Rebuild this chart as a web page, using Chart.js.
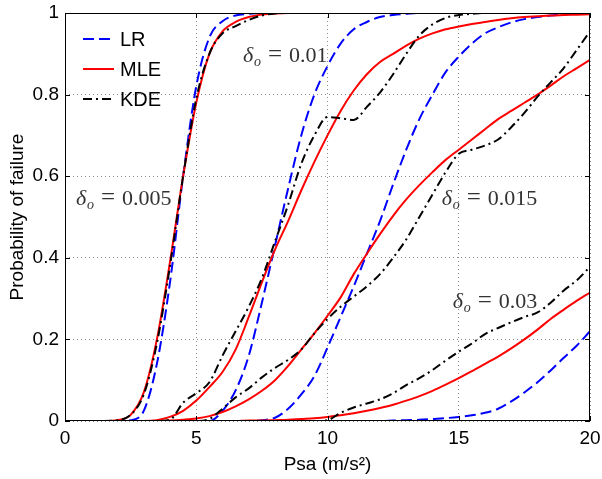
<!DOCTYPE html>
<html>
<head>
<meta charset="utf-8">
<script src="https://cdn.jsdelivr.net/npm/chart.js@4/dist/chart.umd.min.js"></script>
<style>
  body { margin: 0; background: #fff; }
  #c { display: block; }
</style>
</head>
<body>
<canvas id="c" width="602" height="479"></canvas>
<script>
// Psa grid (m/s^2)
const xs = [0, 0.5, 1, 1.5, 2, 2.5, 3, 3.5, 4, 4.5, 5, 5.5, 6, 6.5, 7, 7.5, 8, 8.5, 9, 9.5,
            10, 10.5, 11, 11.5, 12, 12.5, 13, 13.5, 14, 14.5, 15, 15.5, 16, 16.5, 17, 17.5, 18, 18.5, 19, 19.5, 20];

// delta_o = 0.005
const lr005 = [0, 0, 0, 0, 0, 0.002, 0.025, 0.14, 0.34, 0.6, 0.82, 0.94, 0.98, 0.994, 0.998, 1, 1, 1, 1, 1,
               1, 1, 1, 1, 1, 1, 1, 1, 1, 1, 1, 1, 1, 1, 1, 1, 1, 1, 1, 1, 1];
const mle005 = [0, 0, 0, 0, 0.002, 0.015, 0.07, 0.2, 0.39, 0.6, 0.78, 0.9, 0.955, 0.978, 0.99, 0.996, 0.999, 1, 1, 1,
                1, 1, 1, 1, 1, 1, 1, 1, 1, 1, 1, 1, 1, 1, 1, 1, 1, 1, 1, 1, 1];
const kde005 = [0, 0, 0, 0, 0.002, 0.015, 0.065, 0.19, 0.38, 0.6, 0.79, 0.9, 0.95, 0.968, 0.983, 0.994, 0.999, 1, 1, 1,
                1, 1, 1, 1, 1, 1, 1, 1, 1, 1, 1, 1, 1, 1, 1, 1, 1, 1, 1, 1, 1];

// delta_o = 0.01
const lr01 = [0, 0, 0, 0, 0, 0, 0, 0, 0, 0, 0, 0, 0.025, 0.075, 0.16, 0.29, 0.43, 0.57, 0.7, 0.8,
              0.87, 0.925, 0.96, 0.978, 0.99, 0.995, 0.998, 1, 1, 1, 1, 1, 1, 1, 1, 1, 1, 1, 1, 1, 1];
const mle01 = [0, 0, 0, 0, 0, 0, 0, 0.002, 0.01, 0.025, 0.05, 0.083, 0.12, 0.175, 0.255, 0.34, 0.42, 0.49, 0.565, 0.635,
               0.7, 0.76, 0.81, 0.85, 0.88, 0.9, 0.92, 0.937, 0.95, 0.96, 0.967, 0.973, 0.978, 0.983, 0.987, 0.99, 0.992, 0.994, 0.995, 0.996, 0.997];
const kde01 = [0, 0, 0, 0, 0, 0, 0, 0, 0.003, 0.045, 0.068, 0.095, 0.16, 0.22, 0.28, 0.35, 0.44, 0.53, 0.63, 0.7,
               0.745, 0.742, 0.738, 0.77, 0.805, 0.85, 0.9, 0.945, 0.972, 0.988, 0.995, 0.998, 1, 1, 1, 1, 1, 1, 1, 1, 1];

// delta_o = 0.015
const lr015 = [0, 0, 0, 0, 0, 0, 0, 0, 0, 0, 0, 0, 0, 0, 0, 0.002, 0.008, 0.03, 0.065, 0.11,
               0.18, 0.255, 0.33, 0.41, 0.49, 0.58, 0.665, 0.74, 0.8, 0.855, 0.893, 0.925, 0.95, 0.965, 0.977, 0.985, 0.99, 0.994, 0.996, 0.998, 0.999];
const mle015 = [0, 0, 0, 0, 0, 0, 0, 0, 0.001, 0.003, 0.006, 0.012, 0.022, 0.036, 0.053, 0.074, 0.1, 0.135, 0.175, 0.215,
                0.258, 0.303, 0.36, 0.41, 0.458, 0.503, 0.543, 0.578, 0.61, 0.64, 0.665, 0.69, 0.715, 0.74, 0.76, 0.78, 0.8, 0.822, 0.845, 0.865, 0.885];
const kde015 = [0, 0, 0, 0, 0, 0, 0, 0, 0, 0, 0, 0.005, 0.03, 0.058, 0.08, 0.107, 0.13, 0.15, 0.175, 0.215,
                0.25, 0.28, 0.305, 0.33, 0.36, 0.4, 0.445, 0.5, 0.555, 0.61, 0.655, 0.665, 0.675, 0.69, 0.72, 0.755, 0.795, 0.83, 0.865, 0.91, 0.955];

// delta_o = 0.03
const lr03 = [0, 0, 0, 0, 0, 0, 0, 0, 0, 0, 0, 0, 0, 0, 0, 0, 0, 0, 0, 0,
              0, 0, 0, 0, 0, 0.001, 0.002, 0.003, 0.005, 0.007, 0.01, 0.014, 0.02, 0.03, 0.048, 0.07, 0.095, 0.124, 0.155, 0.185, 0.22];
const mle03 = [0, 0, 0, 0, 0, 0, 0, 0, 0, 0, 0, 0, 0, 0, 0.001, 0.001, 0.002, 0.003, 0.005, 0.007,
               0.01, 0.014, 0.019, 0.025, 0.032, 0.04, 0.05, 0.061, 0.074, 0.089, 0.105, 0.122, 0.14, 0.158, 0.178, 0.2, 0.224, 0.25, 0.273, 0.295, 0.315];
const kde03 = [0, 0, 0, 0, 0, 0, 0, 0, 0, 0, 0, 0, 0, 0, 0, 0, 0, 0, 0, 0,
               0.002, 0.02, 0.033, 0.043, 0.053, 0.068, 0.088, 0.105, 0.125, 0.148, 0.17, 0.19, 0.213, 0.228, 0.242, 0.255, 0.266, 0.29, 0.32, 0.345, 0.378];

const methods = ['LR', 'MLE', 'KDE'];
const deltaLabels = ['0.005', '0.01', '0.015', '0.03'];
const yTickLabels = ['0', '0.2', '0.4', '0.6', '0.8', '1'];

const styles = {
    LR:  { color: '#0000ff', dash: [11, 5], order: 2 },
    MLE: { color: '#ff0000', dash: [], order: 1 },
    KDE: { color: '#000000', dash: [9, 4, 2, 4], order: 0 }
};

function pts(ys) {
    return xs.map(function(x, i) { return { x: x, y: ys[i] }; });
}

function makeSet(method, ys) {
    const s = styles[method];
    return {
        label: method,
        data: pts(ys),
        borderColor: s.color,
        borderDash: s.dash,
        borderWidth: 2,
        pointRadius: 0,
        fill: false,
        cubicInterpolationMode: 'monotone',
        order: s.order
    };
}

const FONT = '"Liberation Sans", Arial, sans-serif';
const SERIF = '"Liberation Serif", "DejaVu Serif", serif';

// box and inward ticks, like a matlab axes
const boxPlugin = {
    id: 'box',
    afterDatasetsDraw(chart) {
        const ctx = chart.ctx;
        const a = chart.chartArea;
        const xScale = chart.scales.x;
        const yScale = chart.scales.y;
        ctx.save();
        ctx.strokeStyle = '#000';
        ctx.lineWidth = 1;
        ctx.setLineDash([]);
        ctx.strokeRect(a.left + 0.5, a.top + 0.5, a.right - a.left - 1, a.bottom - a.top - 1);
        ctx.beginPath();
        xScale.ticks.forEach(function(t) {
            const px = Math.round(xScale.getPixelForValue(t.value)) + 0.5;
            ctx.moveTo(px, a.bottom); ctx.lineTo(px, a.bottom - 5);
            ctx.moveTo(px, a.top); ctx.lineTo(px, a.top + 5);
        });
        yScale.ticks.forEach(function(t) {
            const py = Math.round(yScale.getPixelForValue(t.value)) + 0.5;
            ctx.moveTo(a.left, py); ctx.lineTo(a.left + 5, py);
            ctx.moveTo(a.right, py); ctx.lineTo(a.right - 5, py);
        });
        ctx.stroke();
        ctx.restore();
    }
};

// delta_o labels placed in data space
const labelPlugin = {
    id: 'deltaLabels',
    afterDatasetsDraw(chart) {
        const ctx = chart.ctx;
        const xScale = chart.scales.x;
        const yScale = chart.scales.y;
        const spots = [[0.42, 0.529], [6.78, 0.881], [14.35, 0.529], [14.77, 0.276]];
        ctx.save();
        ctx.fillStyle = '#333';
        ctx.textBaseline = 'alphabetic';
        deltaLabels.forEach(function(txt, i) {
            const x0 = xScale.getPixelForValue(spots[i][0]);
            const y0 = yScale.getPixelForValue(spots[i][1]);
            ctx.font = 'italic 22px ' + SERIF;
            ctx.fillText('\u03b4', x0, y0);
            ctx.font = 'italic 14px ' + SERIF;
            ctx.fillText('o', x0 + 11, y0 + 4);
            ctx.font = '25px ' + SERIF;
            ctx.fillText('=', x0 + 25, y0);
            ctx.font = '22px ' + SERIF;
            ctx.fillText(txt, x0 + 46, y0);
        });
        ctx.restore();
    }
};

// legend without a frame in the upper left corner
const legendPlugin = {
    id: 'cornerLegend',
    afterDatasetsDraw(chart) {
        const ctx = chart.ctx;
        const rows = [39, 69, 99];
        ctx.save();
        methods.forEach(function(m, i) {
            const s = styles[m];
            ctx.strokeStyle = s.color;
            ctx.lineWidth = 2;
            ctx.setLineDash(s.dash);
            ctx.beginPath();
            ctx.moveTo(83, rows[i]);
            ctx.lineTo(114, rows[i]);
            ctx.stroke();
            ctx.setLineDash([]);
            ctx.fillStyle = '#000';
            ctx.font = '20px ' + FONT;
            ctx.textBaseline = 'middle';
            ctx.fillText(m, 120, rows[i] + 1);
        });
        ctx.restore();
    }
};

const datasets = [
    makeSet('LR', lr005), makeSet('MLE', mle005), makeSet('KDE', kde005),
    makeSet('LR', lr01), makeSet('MLE', mle01), makeSet('KDE', kde01),
    makeSet('LR', lr015), makeSet('MLE', mle015), makeSet('KDE', kde015),
    makeSet('LR', lr03), makeSet('MLE', mle03), makeSet('KDE', kde03)
];

new Chart(document.getElementById('c').getContext('2d'), {
    type: 'line',
    data: { datasets: datasets },
    options: {
        responsive: false,
        animation: false,
        layout: { padding: { top: 13, right: 12, left: 0, bottom: 0 } },
        plugins: {
            legend: { display: false },
            tooltip: { enabled: false }
        },
        scales: {
            x: {
                type: 'linear',
                min: 0,
                max: 20,
                afterFit: function(scale) {
                    scale.height = 58;
                    scale.paddingLeft = 0;
                    scale.paddingRight = 0;
                },
                ticks: { stepSize: 5, color: '#000', font: { family: FONT, size: 19 }, padding: 6, maxRotation: 0 },
                grid: { color: 'rgba(0,0,0,0.45)', drawTicks: false },
                border: { display: false, dash: [1, 3] },
                title: { display: true, text: 'Psa (m/s\u00b2)', color: '#000', font: { family: FONT, size: 19 }, padding: { top: 0, bottom: 3 } }
            },
            y: {
                min: 0,
                max: 1,
                afterFit: function(scale) {
                    scale.width = 65;
                    scale.paddingTop = 0;
                    scale.paddingBottom = 0;
                },
                ticks: {
                    stepSize: 0.2,
                    color: '#000',
                    font: { family: FONT, size: 19 },
                    padding: 6,
                    callback: function(value, index) { return yTickLabels[index]; }
                },
                grid: { color: 'rgba(0,0,0,0.45)', drawTicks: false },
                border: { display: false, dash: [1, 3] },
                title: { display: true, text: 'Probability of failure', color: '#000', font: { family: FONT, size: 19 }, padding: { top: 6, bottom: 0 } }
            }
        }
    },
    plugins: [boxPlugin, labelPlugin, legendPlugin]
});
</script>
</body>
</html>
